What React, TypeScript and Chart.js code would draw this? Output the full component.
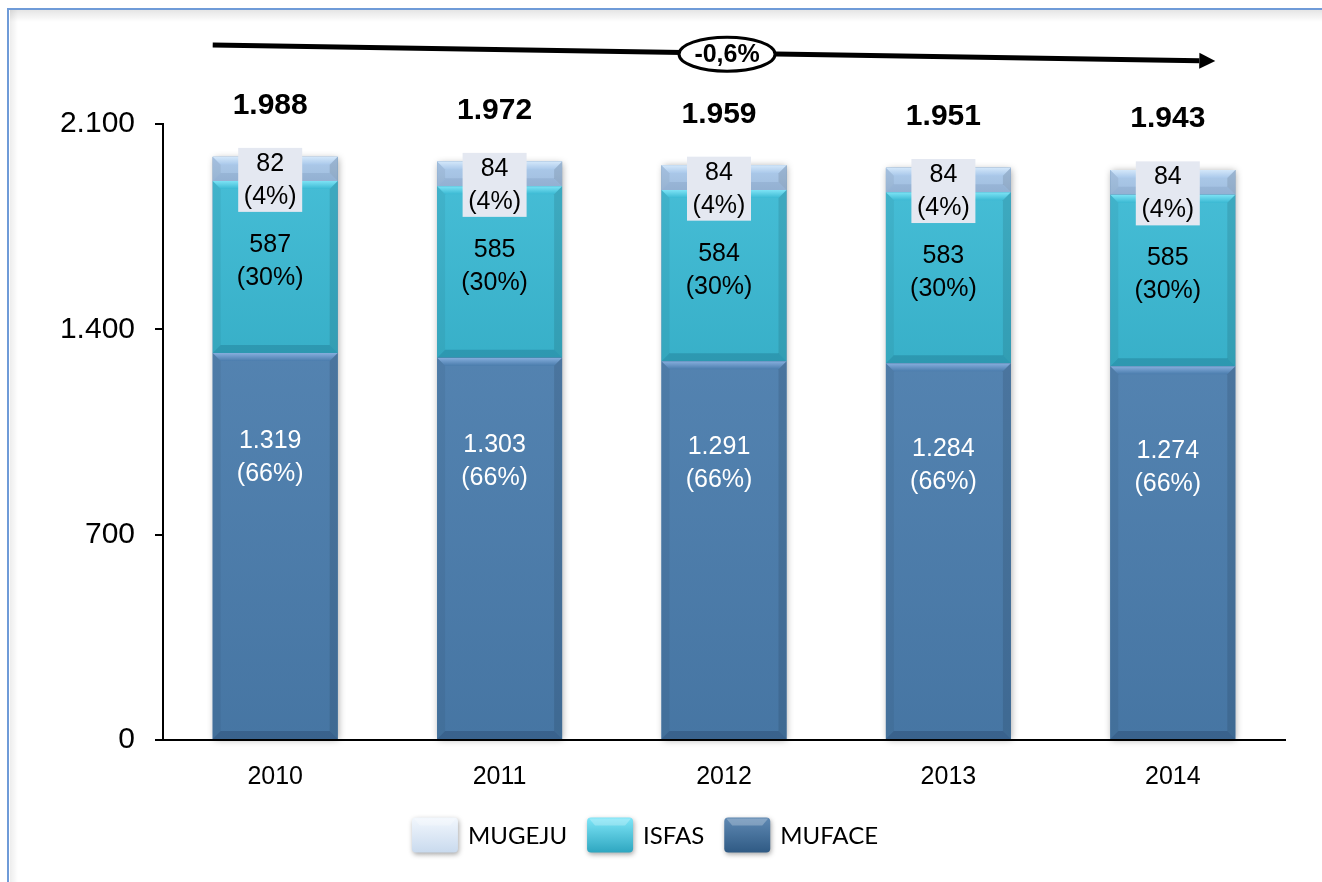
import React, { useEffect, useRef } from "react";
import { Chart, registerables } from "chart.js";

Chart.register(...registerables);

const years = ["2010", "2011", "2012", "2013", "2014"];
const muface = [1319, 1303, 1291, 1284, 1274];
const isfas = [587, 585, 584, 583, 585];
const mugeju = [82, 84, 84, 84, 84];
const seriesNames = ["MUFACE", "ISFAS", "MUGEJU"];
const legendOrder = ["MUGEJU", "ISFAS", "MUFACE"];
const yMax = 2100;
const yStep = 700;
const trendLabel = "-0,6%";

const FONT = '"Liberation Sans", Arial, sans-serif';

const faceColors = ["#4A7CAC", "#3BB9D3", "#A9C8EA"];
const topColors = ["#86AEDD", "#7DE3F5", "#D3E7FA"];
const bottomShade = ["rgba(20,40,70,0.25)", "rgba(10,70,90,0.22)", "rgba(60,90,130,0.12)"];
const labelColors = ["#FFFFFF", "#000000", "#000000"];
const legendColors: Record<string, [string, string]> = {
  MUGEJU: ["#F2F7FD", "#C9DAEE"],
  ISFAS: ["#7FE6F8", "#2EA6C0"],
  MUFACE: ["#5F89B3", "#2F5A84"],
};

function fmt(n: number): string {
  return Math.round(n).toString().replace(/\B(?=(\d{3})+(?!\d))/g, ".");
}

const customPlugin = {
  id: "custom",
  beforeDraw(chart: any) {
    const { ctx, width, height } = chart;
    ctx.save();
    ctx.fillStyle = "#FFFFFF";
    ctx.fillRect(0, 0, width, height);
    let g = ctx.createLinearGradient(0, 10, 0, 22);
    g.addColorStop(0, "rgba(0,0,0,0.10)");
    g.addColorStop(1, "rgba(0,0,0,0)");
    ctx.fillStyle = g;
    ctx.fillRect(10, 10, width - 10, 12);
    g = ctx.createLinearGradient(10, 0, 18, 0);
    g.addColorStop(0, "rgba(0,0,0,0.07)");
    g.addColorStop(1, "rgba(0,0,0,0)");
    ctx.fillStyle = g;
    ctx.fillRect(10, 10, 8, height - 10);
    ctx.fillStyle = "#6F9BD8";
    ctx.fillRect(7, 8, width - 7, 2);
    ctx.fillRect(7, 8, 2, height - 8);
    ctx.restore();
  },
  beforeDatasetsDraw(chart: any) {
    const { ctx } = chart;
    const metas = chart.data.datasets.map((_: any, i: number) => chart.getDatasetMeta(i));
    ctx.save();
    for (let i = 0; i < years.length; i++) {
      const first = metas[0].data[i];
      const last = metas[metas.length - 1].data[i];
      const left = first.x - first.width / 2;
      const top = last.y;
      const bottom = first.base;
      ctx.shadowColor = "rgba(0,0,0,0.35)";
      ctx.shadowBlur = 7;
      ctx.shadowOffsetX = 1;
      ctx.shadowOffsetY = 1;
      ctx.fillStyle = "#4A7BAA";
      ctx.fillRect(left, top, first.width, bottom - top);
    }
    ctx.restore();
  },
  afterDatasetsDraw(chart: any) {
    const { ctx } = chart;
    const b = 8;
    chart.data.datasets.forEach((ds: any, di: number) => {
      const meta = chart.getDatasetMeta(di);
      meta.data.forEach((el: any, i: number) => {
        const left = el.x - el.width / 2;
        const right = el.x + el.width / 2;
        const top = Math.min(el.y, el.base);
        const bottom = Math.max(el.y, el.base);
        const bb = Math.min(b, (bottom - top) / 3);
        ctx.save();
        let g = ctx.createLinearGradient(0, top, 0, bottom);
        g.addColorStop(0, "rgba(255,255,255,0.05)");
        g.addColorStop(1, "rgba(0,0,0,0.05)");
        ctx.fillStyle = g;
        ctx.fillRect(left, top, right - left, bottom - top);
        g = ctx.createLinearGradient(0, top, 0, top + bb);
        g.addColorStop(0, topColors[di]);
        g.addColorStop(1, faceColors[di]);
        ctx.fillStyle = g;
        ctx.beginPath();
        ctx.moveTo(left, top);
        ctx.lineTo(right, top);
        ctx.lineTo(right - bb, top + bb);
        ctx.lineTo(left + bb, top + bb);
        ctx.closePath();
        ctx.fill();
        ctx.fillStyle = "rgba(0,0,0,0.05)";
        ctx.beginPath();
        ctx.moveTo(left, top);
        ctx.lineTo(left + bb, top + bb);
        ctx.lineTo(left + bb, bottom - bb);
        ctx.lineTo(left, bottom);
        ctx.closePath();
        ctx.fill();
        ctx.fillStyle = "rgba(0,0,0,0.10)";
        ctx.beginPath();
        ctx.moveTo(right, top);
        ctx.lineTo(right - bb, top + bb);
        ctx.lineTo(right - bb, bottom - bb);
        ctx.lineTo(right, bottom);
        ctx.closePath();
        ctx.fill();
        ctx.fillStyle = bottomShade[di];
        ctx.beginPath();
        ctx.moveTo(left, bottom);
        ctx.lineTo(right, bottom);
        ctx.lineTo(right - bb, bottom - bb);
        ctx.lineTo(left + bb, bottom - bb);
        ctx.closePath();
        ctx.fill();
        ctx.restore();
      });
    });

    const totals = years.map((_, i) => muface[i] + isfas[i] + mugeju[i]);
    ctx.save();
    ctx.font = `25px ${FONT}`;
    ctx.textAlign = "center";
    ctx.textBaseline = "middle";
    chart.data.datasets.forEach((ds: any, di: number) => {
      const meta = chart.getDatasetMeta(di);
      meta.data.forEach((el: any, i: number) => {
        const v = ds.data[i];
        const pct = Math.round((v / totals[i]) * 100);
        const top = Math.min(el.y, el.base);
        const bottom = Math.max(el.y, el.base);
        const cx = el.x - 5;
        let cy: number;
        if (di === 0) cy = top + (bottom - top) * 0.27;
        else if (di === 1) cy = (top + bottom) / 2 - 6;
        else {
          cy = (top + bottom) / 2 + 11;
          ctx.fillStyle = "#E4E8F1";
          ctx.fillRect(cx - 32, cy - 32, 64, 64);
        }
        ctx.fillStyle = labelColors[di];
        ctx.fillText(fmt(v), cx, cy - 16);
        ctx.fillText(`(${pct}%)`, cx, cy + 17);
      });
    });
    ctx.restore();
  },
  afterDraw(chart: any) {
    const { ctx } = chart;
    const totals = years.map((_, i) => muface[i] + isfas[i] + mugeju[i]);
    const lastMeta = chart.getDatasetMeta(chart.data.datasets.length - 1);
    ctx.save();
    ctx.font = `bold 30px ${FONT}`;
    ctx.textAlign = "center";
    ctx.textBaseline = "middle";
    ctx.fillStyle = "#000";
    lastMeta.data.forEach((el: any, i: number) => {
      ctx.fillText(fmt(totals[i]), el.x - 5, el.y - 51);
    });

    const firstEl = lastMeta.data[0];
    const lastEl = lastMeta.data[lastMeta.data.length - 1];
    const x0 = firstEl.x - firstEl.width / 2;
    const x1 = lastEl.x + lastEl.width / 2 - 20;
    const y0 = 45;
    const y1 = 61;
    const head = 16;
    const ang = Math.atan2(y1 - y0, x1 - x0);
    const hx = x1 - head * Math.cos(ang);
    const hy = y1 - head * Math.sin(ang);
    ctx.strokeStyle = "#000";
    ctx.lineWidth = 5;
    ctx.beginPath();
    ctx.moveTo(x0, y0);
    ctx.lineTo(hx, hy);
    ctx.stroke();
    ctx.fillStyle = "#000";
    ctx.beginPath();
    ctx.moveTo(x1, y1);
    ctx.lineTo(hx - 8 * Math.sin(ang), hy + 8 * Math.cos(ang));
    ctx.lineTo(hx + 8 * Math.sin(ang), hy - 8 * Math.cos(ang));
    ctx.closePath();
    ctx.fill();

    const ex = x0 + (x1 - x0) * 0.513;
    const ey = y0 + (y1 - y0) * 0.513 + 1;
    ctx.beginPath();
    ctx.ellipse(ex, ey, 48, 17, 0, 0, Math.PI * 2);
    ctx.fillStyle = "#FFF";
    ctx.fill();
    ctx.lineWidth = 3;
    ctx.stroke();
    ctx.fillStyle = "#000";
    ctx.font = `bold 25px ${FONT}`;
    ctx.fillText(trendLabel, ex, ey + 1);

    const boxW = 46;
    const boxH = 35;
    const gapText = 10;
    const gapItem = 20;
    ctx.font = `24px Lato, "Open Sans", sans-serif`;
    const widths = legendOrder.map((n) => boxW + gapText + ctx.measureText(n).width);
    const total = widths.reduce((a, c) => a + c, 0) + gapItem * (legendOrder.length - 1);
    let lx = 645 - total / 2;
    const ly = 835;
    legendOrder.forEach((name, k) => {
      const [c1, c2] = legendColors[name];
      ctx.save();
      ctx.shadowColor = "rgba(0,0,0,0.35)";
      ctx.shadowBlur = 5;
      ctx.shadowOffsetX = 1;
      ctx.shadowOffsetY = 2;
      const g = ctx.createLinearGradient(0, ly - boxH / 2, 0, ly + boxH / 2);
      g.addColorStop(0, c1);
      g.addColorStop(1, c2);
      ctx.fillStyle = g;
      ctx.beginPath();
      ctx.roundRect(lx, ly - boxH / 2, boxW, boxH, 4);
      ctx.fill();
      ctx.restore();
      ctx.save();
      ctx.fillStyle = "rgba(255,255,255,0.25)";
      ctx.beginPath();
      ctx.moveTo(lx + 2, ly - boxH / 2 + 1);
      ctx.lineTo(lx + boxW - 2, ly - boxH / 2 + 1);
      ctx.lineTo(lx + boxW - 8, ly - boxH / 2 + 8);
      ctx.lineTo(lx + 8, ly - boxH / 2 + 8);
      ctx.closePath();
      ctx.fill();
      ctx.restore();
      ctx.fillStyle = "#000";
      ctx.textAlign = "left";
      ctx.textBaseline = "middle";
      ctx.fillText(name, lx + boxW + gapText, ly + 1);
      lx += widths[k] + gapItem;
    });
    ctx.restore();
  },
};

export default function App() {
  const ref = useRef<HTMLCanvasElement | null>(null);
  useEffect(() => {
    if (!ref.current) return;
    const datasets = [muface, isfas, mugeju].map((d, i) => ({
      label: seriesNames[i],
      data: d,
      backgroundColor: faceColors[i],
      borderWidth: 0,
      barPercentage: 0.557,
      categoryPercentage: 1,
    }));
    const chart = new Chart(ref.current, {
      type: "bar",
      data: { labels: years, datasets },
      plugins: [customPlugin],
      options: {
        animation: false,
        responsive: false,
        maintainAspectRatio: false,
        layout: { padding: { left: 0, top: 124, right: 37, bottom: 82 } },
        plugins: { legend: { display: false }, tooltip: { enabled: false } },
        scales: {
          x: {
            stacked: true,
            grid: { display: true, drawOnChartArea: false, drawTicks: false },
            border: { display: true, color: "#000", width: 2 },
            ticks: { color: "#000", font: { size: 25, family: FONT }, padding: 22 },
            afterFit: (s: any) => {
              s.height = 60;
            },
          },
          y: {
            stacked: true,
            min: 0,
            max: yMax,
            grid: { drawOnChartArea: false, drawTicks: true, tickLength: 8, color: "#000", lineWidth: 2 },
            border: { display: true, color: "#000", width: 2 },
            ticks: {
              stepSize: yStep,
              color: "#000",
              font: { size: 30, family: FONT },
              padding: 20,
              callback: (v: any) => fmt(Number(v)),
            },
            afterFit: (s: any) => {
              s.width = 163;
            },
          },
        },
      },
    });
    return () => chart.destroy();
  }, []);
  return (
    <div style={{ position: "fixed", left: 0, top: 0, width: 1322, height: 882, background: "#fff" }}>
      <canvas ref={ref} width={1322} height={882} style={{ width: 1322, height: 882, display: "block" }} />
    </div>
  );
}
